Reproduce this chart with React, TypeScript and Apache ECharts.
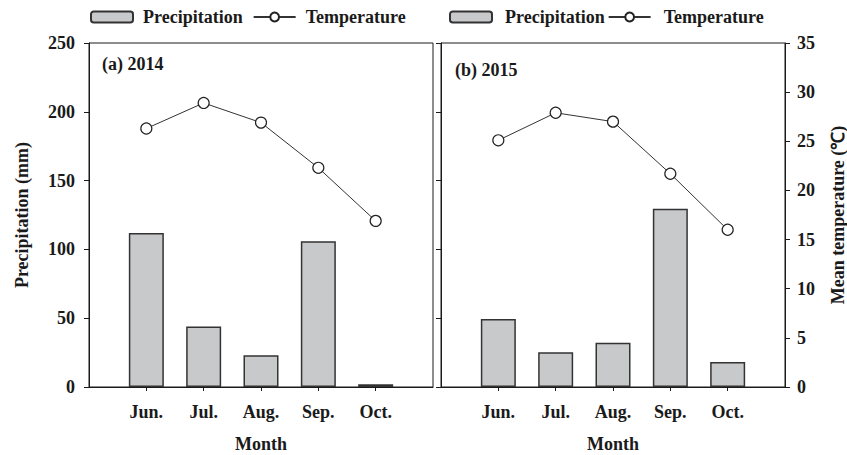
import React, { useEffect, useRef } from "react";
import * as echarts from "echarts";

const months = ["Jun.", "Jul.", "Aug.", "Sep.", "Oct."];
const precip2014 = [112, 44, 23, 106, 2];
const temp2014 = [26.3, 28.9, 26.9, 22.3, 16.9];
const precip2015 = [49.4, 25.2, 32.2, 129.6, 18.2];
const temp2015 = [25.1, 27.9, 27.0, 21.7, 16.0];
const precipTicks = { min: 0, max: 250, interval: 50 };
const tempTicks = { min: 0, max: 35, interval: 5 };

const FONT = "'Liberation Serif', 'Times New Roman', serif";
const INK = "#1a1a1a";

const pad = (arr: (number | string)[]) => [null, ...arr, null];

export default function App() {
  const ref = useRef<HTMLDivElement>(null);

  useEffect(() => {
    if (!ref.current) return;
    const chart = echarts.init(ref.current, undefined, { renderer: "svg" });

    const textBase = { fontFamily: FONT, fontWeight: "bold" as const, color: INK };

    const makeX = (gridIndex: number) => ({
      type: "category" as const,
      gridIndex,
      data: ["", ...months, ""],
      boundaryGap: false,
      axisLine: { show: true, lineStyle: { color: INK, width: 1 } },
      axisTick: {
        show: true,
        length: 4,
        inside: false,
        interval: (i: number) => i > 0 && i < months.length + 1,
        lineStyle: { color: INK },
      },
      axisLabel: { ...textBase, fontSize: 18, margin: 16, interval: 0 },
      splitLine: { show: false },
      name: "Month",
      nameLocation: "middle" as const,
      nameGap: 48,
      nameTextStyle: { ...textBase, fontSize: 18, lineHeight: 18 },
    });

    const barStyle = {
      color: "#c8c9cb",
      borderColor: "#333",
      borderWidth: 1.5,
    };
    const lineSeries = (name: string, xAxisIndex: number, yAxisIndex: number, data: any[]) => ({
      type: "line" as const,
      name,
      xAxisIndex,
      yAxisIndex,
      data,
      symbol: "circle",
      symbolSize: 11,
      connectNulls: false,
      lineStyle: { color: "#333", width: 1 },
      itemStyle: { color: "#fff", borderColor: "#222", borderWidth: 1.2 },
      z: 5,
    });

    const legendBase = {
      top: 8,
      padding: 0,
      itemWidth: 42,
      itemHeight: 11,
      data: ["Precipitation", "Temperature"],
      selectedMode: false,
    };

    const gridBase = {
      top: 43,
      width: 344,
      height: 344,
      show: true,
      borderColor: INK,
      borderWidth: 1,
      backgroundColor: "transparent",
      containLabel: false,
      outerBoundsMode: "none",
    };

    chart.setOption({
      animation: false,
      backgroundColor: "#fff",
      textStyle: { fontFamily: FONT },
      legend: [
        {
          ...legendBase,
          left: 90,
          itemGap: 10,
          textStyle: { ...textBase, fontSize: 18, padding: [0, 0, 0, 5] },
        },
        {
          ...legendBase,
          left: 449,
          itemGap: 3,
          textStyle: { ...textBase, fontSize: 18, padding: [0, 0, 0, 8] },
        },
      ],
      grid: [
        { ...gridBase, left: 89 },
        { ...gridBase, left: 441 },
      ],
      xAxis: [makeX(0), makeX(1)],
      yAxis: [
        {
          type: "value",
          gridIndex: 0,
          ...precipTicks,
          position: "left",
          axisLine: { show: true, lineStyle: { color: INK } },
          axisTick: { show: true, length: 5, lineStyle: { color: INK } },
          axisLabel: { ...textBase, fontSize: 18, margin: 14 },
          splitLine: { show: false },
          name: "Precipitation (mm)",
          nameLocation: "middle",
          nameRotate: 90,
          nameGap: 58,
          nameTextStyle: { ...textBase, fontSize: 18 },
        },
        {
          type: "value",
          gridIndex: 0,
          ...tempTicks,
          position: "right",
          show: false,
        },
        {
          type: "value",
          gridIndex: 1,
          ...precipTicks,
          position: "left",
          axisLine: { show: true, lineStyle: { color: INK } },
          axisTick: { show: true, length: 5, lineStyle: { color: INK } },
          axisLabel: { show: false },
          splitLine: { show: false },
        },
        {
          type: "value",
          gridIndex: 1,
          ...tempTicks,
          position: "right",
          axisLine: { show: true, lineStyle: { color: INK } },
          axisTick: { show: true, length: 5, lineStyle: { color: INK } },
          axisLabel: { ...textBase, fontSize: 18, margin: 12 },
          splitLine: { show: false },
          name: "Mean temperature (\u2103)",
          nameLocation: "middle",
          nameRotate: 90,
          nameGap: 44,
          nameTextStyle: { ...textBase, fontSize: 18, lineHeight: 18 },
        },
      ],
      series: [
        {
          type: "bar",
          name: "Precipitation",
          xAxisIndex: 0,
          yAxisIndex: 0,
          data: pad(precip2014),
          barWidth: 35,
          itemStyle: barStyle,
        },
        lineSeries("Temperature", 0, 1, pad(temp2014)),
        {
          type: "bar",
          name: "Precipitation",
          xAxisIndex: 1,
          yAxisIndex: 2,
          data: pad(precip2015),
          barWidth: 35,
          itemStyle: barStyle,
        },
        lineSeries("Temperature", 1, 3, pad(temp2015)),
      ],
      graphic: [
        {
          type: "text",
          left: 102,
          top: 55,
          style: { text: "(a) 2014", font: `bold 18px ${FONT}`, fill: INK },
        },
        {
          type: "text",
          left: 455,
          top: 61,
          style: { text: "(b) 2015", font: `bold 18px ${FONT}`, fill: INK },
        },
      ],
    });

    return () => chart.dispose();
  }, []);

  return (
    <div
      ref={ref}
      style={{ position: "fixed", left: 0, top: 0, width: 847, height: 455 }}
    />
  );
}
